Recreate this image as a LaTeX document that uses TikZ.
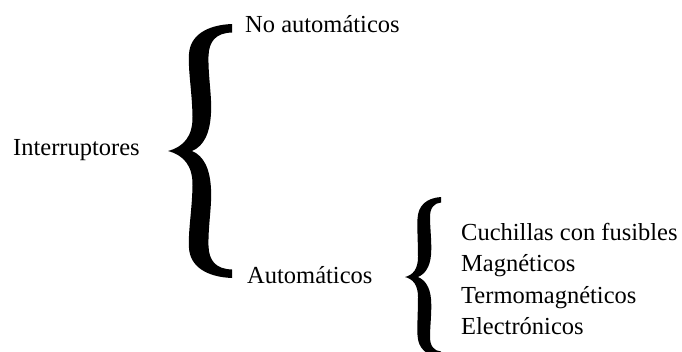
\documentclass[tikz,border=0pt]{standalone}
\usepackage{fontspec}
\setmainfont{Liberation Serif}
\begin{document}
\begin{tikzpicture}[x=1pt,y=-1pt,
  lbl/.style={anchor=base west, inner sep=0pt, font=\fontsize{24.5}{30}\selectfont},
  bracefill/.style={fill=black, draw=none}]
\useasboundingbox (0,0) rectangle (682,351);
% texts
\node[lbl] (root) at (13,155) {Interruptores};
\node[lbl] (noauto) at (245,32) {No automáticos};
\node[lbl] (auto) at (247,283) {Automáticos};
\node[lbl] (c1) at (461,240) {Cuchillas con fusibles};
\node[lbl] (c2) at (461,271.5) {Magnéticos};
\node[lbl] (c3) at (461,303) {Termomagnéticos};
\node[lbl] (c4) at (461,334.5) {Electrónicos};
% big brace
\begin{scope}[shift={(168,151)}]
\fill[bracefill] (0,0) .. controls (15,4) and (25,14) .. (24.5,35)
 .. controls (24,60) and (20,80) .. (21,97)
 .. controls (22,115) and (38,126) .. (64,127)
 -- (64,118.5)
 .. controls (48,118) and (41,110) .. (40.5,95)
 .. controls (40,75) and (44,55) .. (43,38)
 .. controls (42,18) and (36,5) .. (24,0)
 .. controls (36,-5) and (42,-18) .. (43,-38)
 .. controls (44,-55) and (40,-75) .. (40.5,-95)
 .. controls (41,-110) and (48,-118) .. (64,-118.5)
 -- (64,-127)
 .. controls (38,-126) and (22,-115) .. (21,-97)
 .. controls (20,-80) and (24,-60) .. (24.5,-35)
 .. controls (25,-14) and (15,-4) .. (0,0) -- cycle;
\end{scope}
% small brace
\begin{scope}[shift={(405,277)}]
\fill[bracefill] (0,0) .. controls (8,2) and (13,8) .. (13,20)
 .. controls (13,35) and (12,48) .. (12.5,58)
 .. controls (13,72) and (22,79) .. (36,80)
 -- (36,74.5)
 .. controls (29,74) and (25,69) .. (25,60)
 .. controls (25,48) and (27,35) .. (26,22)
 .. controls (25,10) and (20,3) .. (13,0)
 .. controls (20,-3) and (25,-10) .. (26,-22)
 .. controls (27,-35) and (25,-48) .. (25,-60)
 .. controls (25,-69) and (29,-74) .. (36,-74.5)
 -- (36,-80)
 .. controls (22,-79) and (13,-72) .. (12.5,-58)
 .. controls (12,-48) and (13,-35) .. (13,-20)
 .. controls (13,-8) and (8,-2) .. (0,0) -- cycle;
\end{scope}
\end{tikzpicture}
\end{document}
